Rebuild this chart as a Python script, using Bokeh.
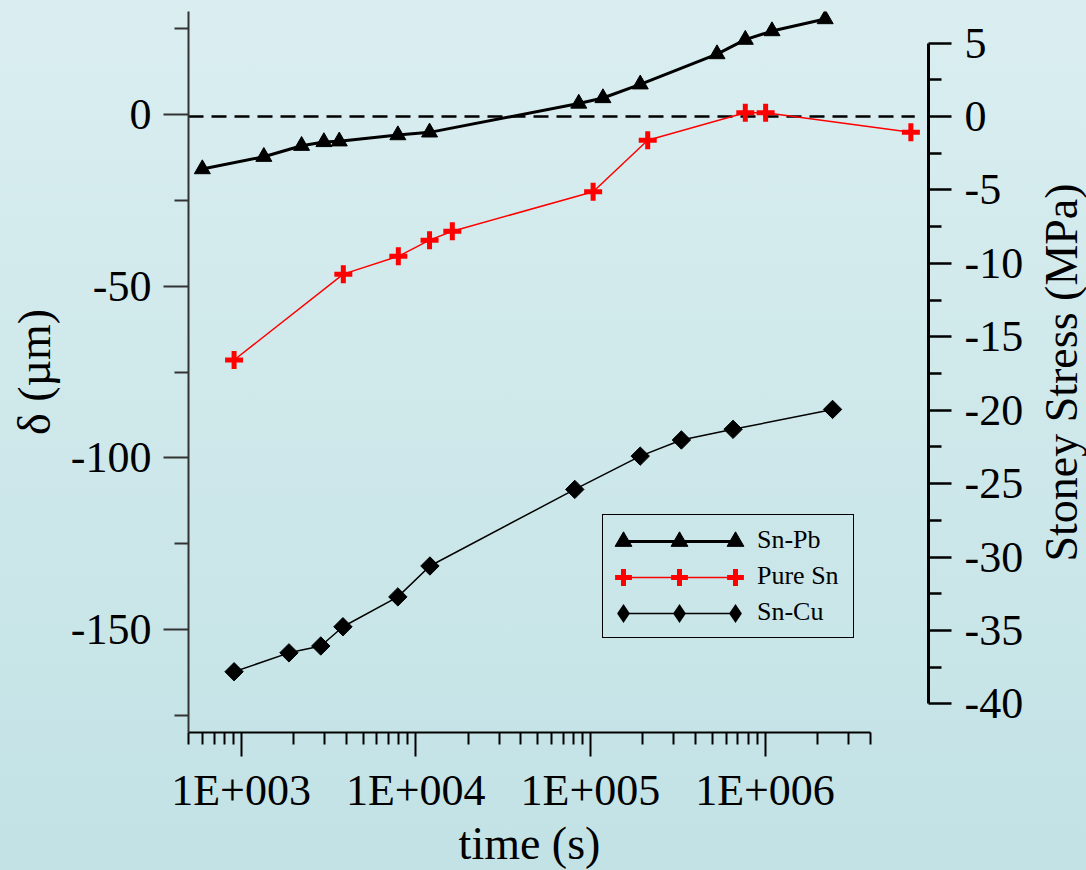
import math
from bokeh.plotting import figure
from bokeh.layouts import row, column
from bokeh.models import (Range1d, LinearAxis, FixedTicker, Legend, LegendItem,
                          InlineStyleSheet, Label)
from bokeh.embed import file_html
from bokeh.resources import INLINE

# ---------------- data ----------------
snpb_t = [600, 1350, 2220, 2980, 3650, 7900, 12000, 85800, 118000, 193000,
          531000, 771000, 1096000, 2210000]
snpb_d = [-15.9, -12.3, -9.1, -8.0, -7.8, -6.0, -5.2, 3.2, 4.8, 8.8,
          17.6, 21.8, 24.3, 27.8]

puresn_t = [912, 3850, 7950, 12000, 16200, 103700, 213000, 771000, 1008000, 6840000]
puresn_d = [-71.5, -46.5, -41.3, -36.6, -34.0, -22.5, -7.5, 0.5, 0.5, -5.2]

sncu_t = [912, 1880, 2860, 3830, 7900, 12060, 81400, 193000, 332000, 656000, 2436000]
sncu_d = [-162.3, -156.8, -154.8, -149.2, -140.5, -131.5, -109.2, -99.5, -94.8,
          -91.7, -85.9]

zero_t = [500, 7.2e6]
zero_stress = [0, 0]

series_names = ["Sn-Pb", "Pure Sn", "Sn-Cu"]

x_major = [1e3, 1e4, 1e5, 1e6]
x_labels = ["1E+003", "1E+004", "1E+005", "1E+006"]
x_minor = [500, 600, 700, 800, 900,
           2e3, 3e3, 4e3, 5e3, 6e3, 7e3, 8e3, 9e3,
           2e4, 3e4, 4e4, 5e4, 6e4, 7e4, 8e4, 9e4,
           2e5, 3e5, 4e5, 5e5, 6e5, 7e5, 8e5, 9e5,
           2e6, 3e6, 4e6]
y_major = [-150, -100, -50, 0]
y_labels = ["-150", "-100", "-50", "0"]
y_minor = [-175, -125, -75, -25, 25]
s_major = [-40, -35, -30, -25, -20, -15, -10, -5, 0, 5]
s_labels = ["-40", "-35", "-30", "-25", "-20", "-15", "-10", "-5", "0", "5"]
s_minor = [-37.5, -32.5, -27.5, -22.5, -17.5, -12.5, -7.5, -2.5, 2.5]

x_title = "time (s)"
y_title = "δ (µm)"
s_title = "Stoney Stress (MPa)"

FONT = "Liberation Serif"

base = dict(output_backend="svg", toolbar_location=None,
            background_fill_color=None, border_fill_color=None,
            outline_line_color=None)

p = figure(width=1030, height=817, x_axis_type="log",
           x_range=Range1d(500, 8.63e6), y_range=Range1d(-180, 30),
           min_border_left=188, min_border_right=102,
           min_border_top=11, min_border_bottom=85, **base)
p.extra_y_ranges = {"stress": Range1d(-41.95, 7.15)}
p.xgrid.visible = False
p.ygrid.visible = False

# zero (stress) reference line
p.line(zero_t, zero_stress, y_range_name="stress", line_color="black",
       line_width=2.5, line_dash="15 8")

l1 = p.line(snpb_t, snpb_d, line_color="black", line_width=3)
s1 = p.scatter(snpb_t, snpb_d, marker="triangle", size=16,
               fill_color="black", line_color="black")
l2 = p.line(puresn_t, puresn_d, line_color="#ff0000", line_width=1.5)
s2 = p.scatter(puresn_t, puresn_d, marker="cross", size=18,
               line_color="#ff0000", line_width=5)
l3 = p.line(sncu_t, sncu_d, line_color="black", line_width=1.5)
s3 = p.scatter(sncu_t, sncu_d, marker="square", angle=math.pi / 4, size=13,
               fill_color="black", line_color="black")
# diamond sample used only by the legend (zero size in the plot)
s3_leg = p.scatter(sncu_t, sncu_d, marker="diamond", size=0,
                   fill_color="black", line_color=None)

# ---------------- axes ----------------
xa = p.xaxis[0]
xa.ticker = FixedTicker(ticks=x_major, minor_ticks=x_minor)
xa.major_label_overrides = {k: v for k, v in zip(x_major, x_labels)}
xa.bounds = (500, 4e6)
xa.major_tick_out = 24
xa.minor_tick_out = 12
xa.major_label_standoff = 9

ya = p.yaxis[0]
ya.ticker = FixedTicker(ticks=y_major, minor_ticks=y_minor)
ya.major_label_overrides = {k: v for k, v in zip(y_major, y_labels)}
ya.axis_label = y_title
ya.major_tick_out = 25
ya.minor_tick_out = 14
ya.major_label_standoff = 12
ya.axis_label_standoff = 8
ya.axis_line_color = "#333333"
ya.major_tick_line_color = "#333333"
ya.minor_tick_line_color = "#333333"

ra = LinearAxis(y_range_name="stress",
                ticker=FixedTicker(ticks=s_major, minor_ticks=s_minor),
                bounds=(-40, 5))
ra.major_label_overrides = {k: v for k, v in zip(s_major, s_labels)}
ra.major_tick_out = 23
ra.minor_tick_out = 13
ra.major_label_standoff = 13
p.add_layout(ra, "right")

for ax in (xa, ya, ra):
    ax.major_tick_in = 0
    ax.minor_tick_in = 0
    ax.major_label_text_font = FONT
    ax.major_label_text_font_size = "44px"
    ax.major_label_text_color = "black"
    ax.axis_label_text_font = FONT
    ax.axis_label_text_font_size = "46px"
    ax.axis_label_text_font_style = "normal"
    ax.axis_label_text_color = "black"
    ax.major_tick_line_width = 2
    ax.minor_tick_line_width = 2
xa.axis_line_width = 2
ya.axis_line_width = 2
ra.axis_line_width = 3
ra.major_tick_line_width = 2.5
ra.minor_tick_line_width = 2.5

# ---------------- legend ----------------
common = dict(background_fill_alpha=0, border_line_color=None, margin=0,
              label_text_font=FONT, label_text_font_size="26px",
              label_text_color="black")

# connecting lines of the legend samples
leg_lines = Legend(items=[LegendItem(label="", renderers=[l1]),
                          LegendItem(label="", renderers=[l2]),
                          LegendItem(label="", renderers=[l3])],
                   location=(435, 101), glyph_width=112, glyph_height=36,
                   padding=0, spacing=0, label_standoff=0, label_width=0,
                   **common)
p.add_layout(leg_lines)

# box with the series names
main_common = dict(common)
main_common["border_line_color"] = "black"
leg_main = Legend(items=[LegendItem(label=series_names[0], renderers=[]),
                         LegendItem(label=series_names[1], renderers=[]),
                         LegendItem(label=series_names[2], renderers=[])],
                  location=(414, 94), glyph_width=141, glyph_height=36,
                  padding=7, spacing=0, label_standoff=6, label_width=89,
                  border_line_width=1.5, border_line_alpha=1, **main_common)
p.add_layout(leg_main)

# three markers per legend row
for r, yloc, gh in ((s1, 170, 42), (s2, 134, 42), (s3_leg, 95, 48)):
    p.add_layout(Legend(items=[LegendItem(label="", renderers=[r]),
                               LegendItem(label="", renderers=[r]),
                               LegendItem(label="", renderers=[r])],
                        orientation="horizontal", location=(407, yloc),
                        glyph_width=56, glyph_height=gh, padding=0, spacing=0,
                        label_standoff=0, label_width=0, **common))

# ---------------- axis titles in thin strips ----------------
strip = dict(min_border=0, x_range=Range1d(0, 1), y_range=Range1d(0, 1),
             x_axis_location=None, y_axis_location=None, **base)

pb = figure(width=1030, height=53, **strip)
pb.grid.visible = False
pb.add_layout(Label(x=341, y=27, x_units="screen", y_units="screen",
                    text=x_title, text_align="center", text_baseline="alphabetic",
                    text_font=FONT, text_font_size="46px", text_color="black"))

pr = figure(width=56, height=870, **strip)
pr.grid.visible = False
pr.add_layout(Label(x=31, y=498, x_units="screen", y_units="screen",
                    text=s_title, angle=math.pi / 2, text_align="center",
                    text_baseline="alphabetic", text_font=FONT,
                    text_font_size="46px", text_color="black"))

css = InlineStyleSheet(css=":host{background:linear-gradient(180deg,#daeef0 0%,#c2e2e5 100%);}")
layout = row(column(p, pb, spacing=0), pr, spacing=0, stylesheets=[css])

open("out.html", "w").write(file_html(layout, INLINE))
